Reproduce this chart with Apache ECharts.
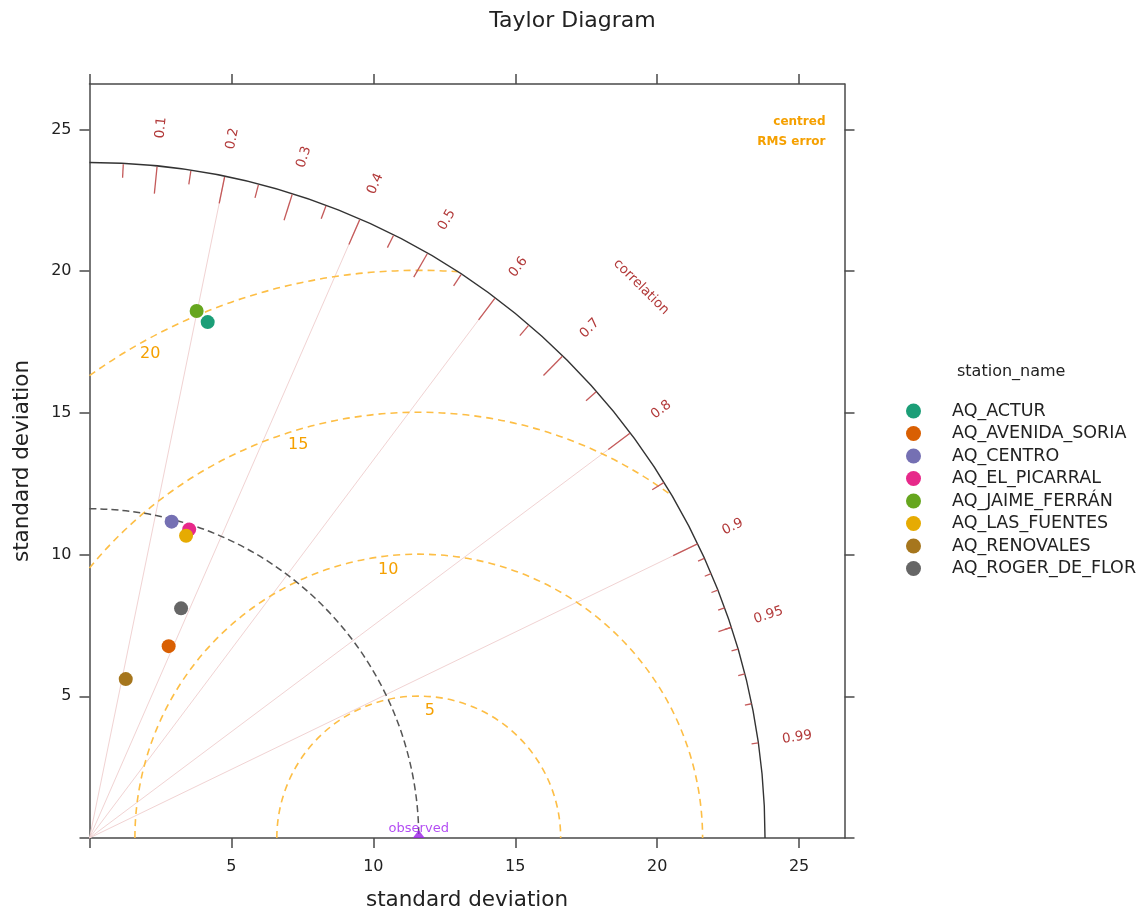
<!DOCTYPE html>
<html>
<head>
<meta charset="utf-8">
<title>Taylor Diagram</title>
<script src="https://cdn.jsdelivr.net/npm/echarts@6/dist/echarts.min.js"></script>
<style>
  html, body { margin: 0; padding: 0; background: #fff; }
  #chart { width: 1145px; height: 912px; }
</style>
</head>
<body>
<div id="chart"></div>
<script>
// stations (standard deviation + correlation with observed)
const stations = ['AQ_ACTUR', 'AQ_AVENIDA_SORIA', 'AQ_CENTRO', 'AQ_EL_PICARRAL', 'AQ_JAIME_FERRÁN', 'AQ_LAS_FUENTES', 'AQ_RENOVALES', 'AQ_ROGER_DE_FLOR'];
const stationSd = [18.67, 7.32, 11.53, 11.44, 18.97, 11.19, 5.75, 8.72];
const stationCorr = [0.223, 0.381, 0.251, 0.307, 0.199, 0.304, 0.222, 0.370];
const stationColors = ['#1B9E77', '#D95F02', '#7570B3', '#E7298A', '#66A61E', '#E6AB02', '#A6761D', '#666666'];

const observedSd = 11.6;
const maxSd = 23.8;
const axisMax = 26.6;
const axisTickValues = [0, 5, 10, 15, 20, 25];
const axisLabelValues = [5, 10, 15, 20, 25];

// centred RMS error contours
const rmsLevels = [5, 10, 15, 20];
const rmsLabelAngles = [85, 96.5, 107, 119]; // degrees round the observed point

// correlation axis
const corrLabels = [0.1, 0.2, 0.3, 0.4, 0.5, 0.6, 0.7, 0.8, 0.9, 0.95, 0.99];
const corrRays = [0.2, 0.4, 0.6, 0.8, 0.9];
const bigTicks = [0.1, 0.2, 0.3, 0.4, 0.5, 0.6, 0.7, 0.8, 0.9];
const medTicks = [0.05, 0.15, 0.25, 0.35, 0.45, 0.55, 0.65, 0.75, 0.85, 0.95];
const smallTicks = [0.91, 0.92, 0.93, 0.94, 0.95, 0.96, 0.97, 0.98, 0.99];

const FONT = 'DejaVu Sans';
const rayColor = '#F1D3D3';
const tickColor = '#C45A5A';
const corrTextColor = '#B23A3A';
const rmsColor = '#FDBE45';
const rmsTextColor = '#F5A000';

function renderDecor(params, api) {
  const o = api.coord([0, 0]);
  const unit = api.size([1, 1])[0];
  const pt = (r, a) => api.coord([r * Math.cos(a), r * Math.sin(a)]);
  const kids = [];

  corrRays.forEach(c => {
    const p = pt(maxSd, Math.acos(c));
    kids.push({ type: 'line', shape: { x1: o[0], y1: o[1], x2: p[0], y2: p[1] },
      style: { stroke: rayColor, lineWidth: 1 } });
  });

  // rms arcs, centred on the observed point, clipped at x=0 and the outer arc
  const obs = api.coord([observedSd, 0]);
  rmsLevels.forEach((r, i) => {
    let a1 = 0, a2 = Math.PI;
    if (observedSd + r > maxSd) {
      const x = (maxSd * maxSd - r * r + observedSd * observedSd) / (2 * observedSd);
      a1 = Math.acos((x - observedSd) / r);
    }
    if (r > observedSd) a2 = Math.acos(-observedSd / r);
    kids.push({ type: 'arc', shape: { cx: obs[0], cy: obs[1], r: r * unit, startAngle: -a2, endAngle: -a1, clockwise: true },
      style: { stroke: rmsColor, fill: null, lineWidth: 1.6, lineDash: [7, 5] } });
    const la = rmsLabelAngles[i] * Math.PI / 180;
    const lp = api.coord([observedSd + (r - 0.48) * Math.cos(la), (r - 0.48) * Math.sin(la)]);
    kids.push({ type: 'text', x: lp[0], y: lp[1],
      style: { text: String(r), fill: rmsTextColor, fontSize: 16, fontFamily: FONT, align: 'center', verticalAlign: 'middle' } });
  });

  // observed sd arc
  kids.push({ type: 'arc', shape: { cx: o[0], cy: o[1], r: observedSd * unit, startAngle: -Math.PI / 2, endAngle: 0, clockwise: true },
    style: { stroke: '#555', fill: null, lineWidth: 1.5, lineDash: [7, 4] } });

  // outer arc
  kids.push({ type: 'arc', shape: { cx: o[0], cy: o[1], r: maxSd * unit, startAngle: -Math.PI / 2, endAngle: 0, clockwise: true },
    style: { stroke: '#333', fill: null, lineWidth: 1.4 } });

  const tick = (list, frac) => list.forEach(c => {
    const a = Math.acos(c);
    const p1 = pt(maxSd, a), p2 = pt(maxSd * frac, a);
    kids.push({ type: 'line', shape: { x1: p1[0], y1: p1[1], x2: p2[0], y2: p2[1] },
      style: { stroke: tickColor, lineWidth: 1.3 } });
  });
  tick(bigTicks, 0.96);
  tick(medTicks, 0.98);
  tick(smallTicks, 0.99);

  corrLabels.forEach(c => {
    const a = Math.acos(c);
    const p = pt(maxSd * 1.058, a);
    kids.push({ type: 'text', x: p[0], y: p[1], rotation: a,
      style: { text: String(c), fill: corrTextColor, fontSize: 13.5, fontFamily: FONT, align: 'center', verticalAlign: 'middle' } });
  });
  const cp = pt(maxSd * 1.155, Math.PI / 4);
  kids.push({ type: 'text', x: cp[0], y: cp[1], rotation: -Math.PI / 4,
    style: { text: 'correlation', fill: corrTextColor, fontSize: 13.5, fontFamily: FONT, align: 'center', verticalAlign: 'middle' } });

  const t1 = api.coord([25.93, 25.28]), t2 = api.coord([25.93, 24.57]);
  kids.push({ type: 'text', x: t1[0], y: t1[1],
    style: { text: 'centred', fill: rmsTextColor, fontSize: 12, fontWeight: 'bold', fontFamily: FONT, align: 'right', verticalAlign: 'middle' } });
  kids.push({ type: 'text', x: t2[0], y: t2[1],
    style: { text: 'RMS error', fill: rmsTextColor, fontSize: 12, fontWeight: 'bold', fontFamily: FONT, align: 'right', verticalAlign: 'middle' } });

  return { type: 'group', children: kids };
}

const axisLine = { onZero: false, lineStyle: { color: '#4a4a4a', width: 1.5 } };
const axisTick = { length: 10, customValues: axisTickValues, lineStyle: { color: '#4a4a4a', width: 1.5 } };
const axisLabel = { customValues: axisLabelValues, fontSize: 16, fontFamily: FONT, color: '#222' };

const stationSeries = stations.map((name, i) => {
  const sd = stationSd[i], c = stationCorr[i];
  return {
    name: name,
    type: 'scatter',
    z: 5,
    symbolSize: 14,
    itemStyle: { color: stationColors[i], opacity: 1 },
    data: [[sd * c, sd * Math.sqrt(1 - c * c)]]
  };
});

const chart = echarts.init(document.getElementById('chart'));
chart.setOption({
  animation: false,
  backgroundColor: '#fff',
  title: [
    { text: 'Taylor Diagram', left: 'center', top: 10, padding: 0,
      textStyle: { fontSize: 22, fontWeight: 'normal', fontFamily: FONT, color: '#222' } },
    { text: 'station_name', left: 957, top: 364, padding: 0,
      textStyle: { fontSize: 16, fontWeight: 'normal', fontFamily: FONT, color: '#222' } }
  ],
  legend: {
    data: stations,
    orient: 'vertical',
    left: 906, top: 402, padding: 0,
    icon: 'circle',
    itemWidth: 15, itemHeight: 15, itemGap: 4.5,
    textStyle: { fontSize: 17.5, fontFamily: FONT, color: '#222', padding: [0, 0, 0, 26] }
  },
  grid: { left: 89.5, top: 84, width: 755, height: 754, outerBoundsMode: 'none', containLabel: false },
  xAxis: [
    { type: 'value', min: 0, max: axisMax, position: 'bottom',
      name: 'standard deviation', nameLocation: 'middle', nameGap: 51,
      nameTextStyle: { fontSize: 21.5, fontFamily: FONT, color: '#222' },
      axisLine, axisTick, axisLabel: Object.assign({ margin: 21 }, axisLabel), splitLine: { show: false } },
    { type: 'value', min: 0, max: axisMax, position: 'top',
      axisLine, axisTick, axisLabel: { show: false }, splitLine: { show: false } }
  ],
  yAxis: [
    { type: 'value', min: 0, max: axisMax, position: 'left',
      name: 'standard deviation', nameLocation: 'middle', nameGap: 56,
      nameTextStyle: { fontSize: 21.5, fontFamily: FONT, color: '#222' },
      axisLine, axisTick, axisLabel: Object.assign({ margin: 18 }, axisLabel), splitLine: { show: false } },
    { type: 'value', min: 0, max: axisMax, position: 'right',
      axisLine, axisTick, axisLabel: { show: false }, splitLine: { show: false } }
  ],
  series: [
    { type: 'custom', name: 'decor', silent: true, z: 1, renderItem: renderDecor, data: [[0, 0]] },
    { type: 'scatter', name: 'observed', z: 6, symbol: 'triangle', symbolSize: [12, 8], symbolOffset: [0, -4],
      itemStyle: { color: '#9A1EE8' },
      label: { show: true, position: 'top', distance: 0, offset: [0, 5], formatter: 'observed',
        fontSize: 13, fontFamily: FONT, color: '#A020F0' },
      data: [[observedSd, 0]] }
  ].concat(stationSeries)
});
</script>
</body>
</html>
